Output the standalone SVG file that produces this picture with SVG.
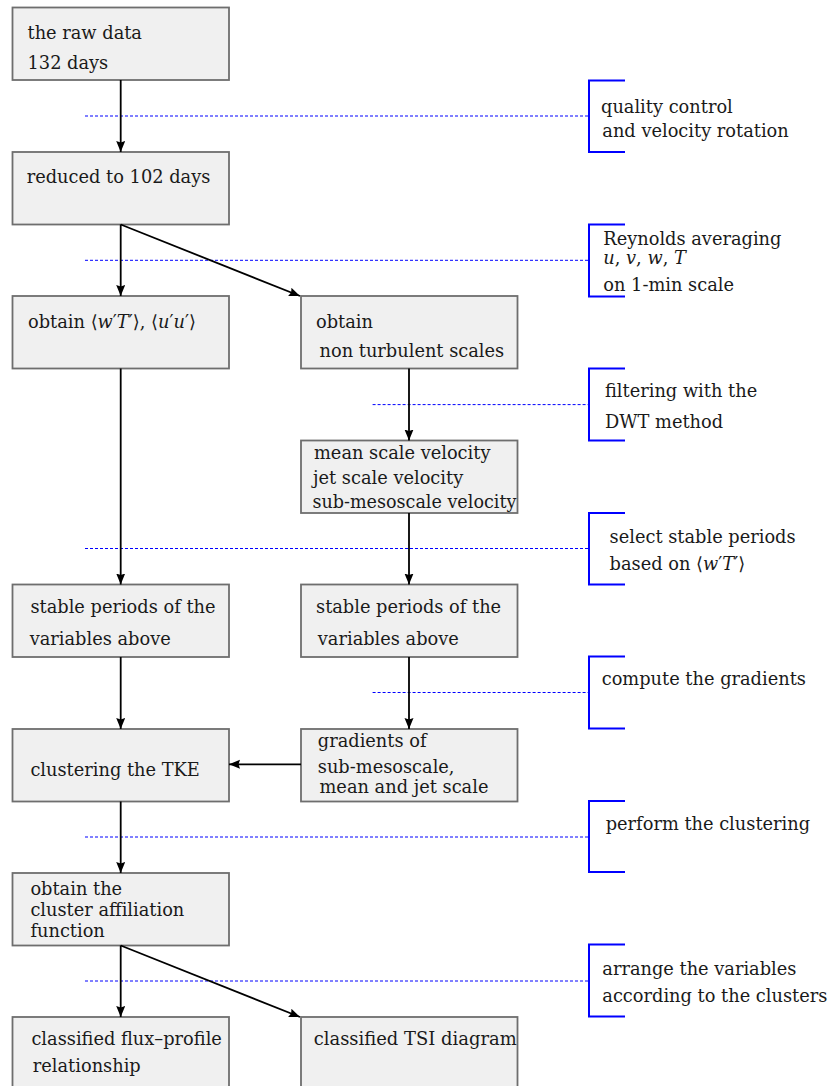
<svg xmlns="http://www.w3.org/2000/svg" width="830" height="1086" viewBox="0 0 830 1086">
<style>
.box{fill:#f0f0f0;stroke:#6e6e6e;stroke-width:1.8}
.t{font-family:"DejaVu Serif","DejaVu Sans",serif;font-size:17.8px;fill:#1a1a1a}
.i{font-style:italic}
.arr{stroke:#000;stroke-width:1.8;fill:none;marker-end:url(#ah)}
.dash{stroke:#0000ff;stroke-width:1;stroke-dasharray:3 2;fill:none}
.br{stroke:#0000ff;stroke-width:2;fill:none}
</style>
<defs>
<marker id="ah" markerUnits="userSpaceOnUse" markerWidth="12" markerHeight="10" refX="11" refY="4.5" orient="auto">
<path d="M0,0 L11,4.5 L0,9 L1.5,4.5 z" fill="#000"/>
</marker>
</defs>
<rect width="830" height="1086" fill="#fff"/>
<g id="n1"><rect class="box" x="12.5" y="7.5" width="216.5" height="72.5"/><text class="t" x="27.5" y="39">the raw data</text><text class="t" x="27.5" y="69.3">132 days</text></g>
<g id="n2"><rect class="box" x="12.5" y="152" width="216.5" height="72.5"/><text class="t" x="26.7" y="182.7">reduced to 102 days</text></g>
<g id="n3"><rect class="box" x="12.5" y="296" width="216.5" height="72.5"/><text class="t" x="28" y="328.3">obtain ⟨<tspan class="i">w</tspan>′<tspan class="i">T</tspan>′⟩, ⟨<tspan class="i">u</tspan>′<tspan class="i">u</tspan>′⟩</text></g>
<g id="n4"><rect class="box" x="301" y="296" width="216.5" height="72.5"/><text class="t" x="316" y="328.3">obtain</text><text class="t" x="319.5" y="356.7">non turbulent scales</text></g>
<g id="n5"><rect class="box" x="301" y="440.5" width="216.5" height="72.5"/><text class="t" x="314" y="459">mean scale velocity</text><text class="t" x="313" y="484.3">jet scale velocity</text><text class="t" x="312.4" y="508.3" textLength="204" lengthAdjust="spacingAndGlyphs">sub-mesoscale velocity</text></g>
<g id="n6"><rect class="box" x="12.5" y="584.5" width="216.5" height="72.5"/><text class="t" x="30.4" y="613.3">stable periods of the</text><text class="t" x="29.7" y="645">variables above</text></g>
<g id="n7"><rect class="box" x="301" y="584.5" width="216.5" height="72.5"/><text class="t" x="316" y="613.3">stable periods of the</text><text class="t" x="317.8" y="645">variables above</text></g>
<g id="n8"><rect class="box" x="12.5" y="729" width="216.5" height="72.5"/><text class="t" x="30.4" y="776">clustering the TKE</text></g>
<g id="n9"><rect class="box" x="301" y="729" width="216.5" height="72.5"/><text class="t" x="317.8" y="746.7">gradients of</text><text class="t" x="317.8" y="772.7">sub-mesoscale,</text><text class="t" x="319.5" y="793.3">mean and jet scale</text></g>
<g id="n10"><rect class="box" x="12.5" y="873" width="216.5" height="72.5"/><text class="t" x="30.4" y="895">obtain the</text><text class="t" x="30.4" y="915.7">cluster affiliation</text><text class="t" x="30.4" y="937.3">function</text></g>
<g id="n11"><rect class="box" x="12.5" y="1017" width="216.5" height="72.5"/><text class="t" x="31.4" y="1045">classified flux–profile</text><text class="t" x="32.8" y="1071.7">relationship</text></g>
<g id="n12"><rect class="box" x="301" y="1017" width="216.5" height="72.5"/><text class="t" x="313.7" y="1045" textLength="203" lengthAdjust="spacingAndGlyphs">classified TSI diagram</text></g>
<g id="steps">
<line class="dash" x1="85" y1="116" x2="589" y2="116"/>
<polyline class="br" points="625,80.5 589,80.5 589,152 625,152"/>
<text class="t" x="601" y="112.7">quality control</text><text class="t" x="602.3" y="136.7">and velocity rotation</text>
<line class="dash" x1="85" y1="260.3" x2="589" y2="260.3"/>
<polyline class="br" points="625,224.5 589,224.5 589,296.5 625,296.5"/>
<text class="t" x="603.3" y="245">Reynolds averaging</text><text class="t" x="603.3" y="264.3"><tspan class="i">u</tspan>, <tspan class="i">v</tspan>, <tspan class="i">w</tspan>, <tspan class="i">T</tspan></text><text class="t" x="603.3" y="290.7">on 1-min scale</text>
<line class="dash" x1="372.6" y1="404.6" x2="589" y2="404.6"/>
<polyline class="br" points="625,368.5 589,368.5 589,440.5 625,440.5"/>
<text class="t" x="605" y="396.7">filtering with the</text><text class="t" x="605" y="428.3">DWT method</text>
<line class="dash" x1="85" y1="548.5" x2="589" y2="548.5"/>
<polyline class="br" points="625,513 589,513 589,584.5 625,584.5"/>
<text class="t" x="609.6" y="543.3">select stable periods</text><text class="t" x="609.6" y="570">based on ⟨<tspan class="i">w</tspan>′<tspan class="i">T</tspan>′⟩</text>
<line class="dash" x1="372.6" y1="692.5" x2="589" y2="692.5"/>
<polyline class="br" points="625,656.5 589,656.5 589,728.5 625,728.5"/>
<text class="t" x="601.7" y="685">compute the gradients</text>
<line class="dash" x1="85" y1="837" x2="589" y2="837"/>
<polyline class="br" points="625,801 589,801 589,872 625,872"/>
<text class="t" x="605.7" y="830">perform the clustering</text>
<line class="dash" x1="85" y1="981" x2="589" y2="981"/>
<polyline class="br" points="625,944.5 589,944.5 589,1016.5 625,1016.5"/>
<text class="t" x="602.3" y="975">arrange the variables</text><text class="t" x="602.3" y="1001.7">according to the clusters</text>
</g>
<g id="connectors">
<line class="arr" x1="120.7" y1="80" x2="120.7" y2="152"/>
<line class="arr" x1="120.7" y1="224.5" x2="120.7" y2="296"/>
<line class="arr" x1="120.7" y1="224.5" x2="300" y2="296"/>
<line class="arr" x1="120.7" y1="368.5" x2="120.7" y2="584.5"/>
<line class="arr" x1="409" y1="368.5" x2="409" y2="440.5"/>
<line class="arr" x1="409" y1="513" x2="409" y2="584.5"/>
<line class="arr" x1="120.7" y1="657" x2="120.7" y2="729"/>
<line class="arr" x1="409" y1="657" x2="409" y2="729"/>
<line class="arr" x1="301" y1="764.3" x2="229" y2="764.3"/>
<line class="arr" x1="120.7" y1="801.5" x2="120.7" y2="873"/>
<line class="arr" x1="120.7" y1="945.5" x2="120.7" y2="1017"/>
<line class="arr" x1="120.7" y1="945.5" x2="300" y2="1017"/>
</g>
</svg>
